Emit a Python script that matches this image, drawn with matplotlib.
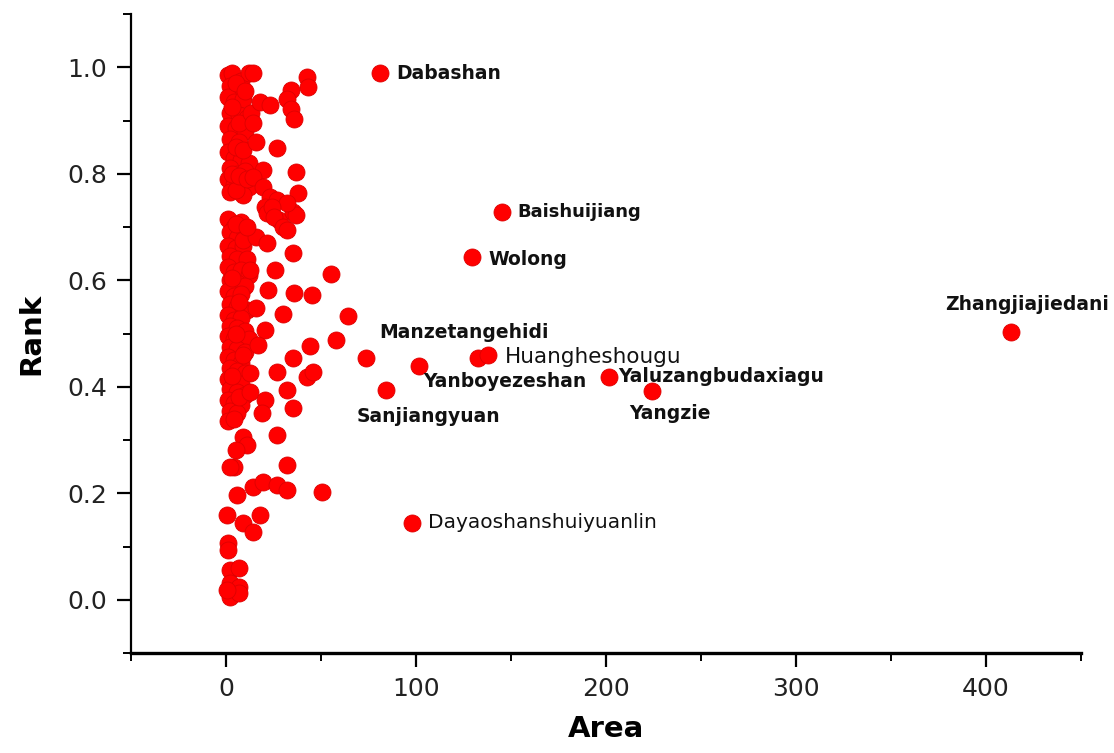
import matplotlib.pyplot as plt
from matplotlib.ticker import MultipleLocator

# unlabelled reserves: dense column near zero area
col_area = [1, 3, 8, 12, 2, 6, 1, 4, 9, 2, 7, 11, 1, 5, 10, 2, 7, 1, 4, 8, 12,
            2, 6, 10, 1, 4, 8, 12, 2, 9, 5,
            1, 4, 8, 2, 6, 10, 1, 5, 9, 2, 6, 11, 1, 4, 8, 12, 2, 6, 10, 1, 4, 8,
            2, 6, 11, 1, 4, 8, 2, 6, 10, 1, 4, 8, 12, 2, 6, 10, 1, 4, 8, 2, 6, 10,
            1, 4, 8, 2, 6, 10, 1, 4, 8, 2, 6, 1, 4,
            5, 10, 3, 7, 13, 5, 9, 3, 7, 11, 5, 9, 3, 7, 5, 9, 3, 7]
col_rank = [0.985, 0.99, 0.975, 0.99, 0.965, 0.955, 0.945, 0.935, 0.94, 0.915, 0.91, 0.905,
            0.89, 0.885, 0.88, 0.865, 0.86, 0.84, 0.83, 0.825, 0.82, 0.81, 0.80, 0.805,
            0.79, 0.78, 0.785, 0.775, 0.765, 0.76, 0.77,
            0.715, 0.70, 0.71, 0.69, 0.68, 0.69, 0.665, 0.66, 0.665, 0.645, 0.64, 0.64,
            0.625, 0.615, 0.62, 0.61, 0.60, 0.595, 0.59, 0.58, 0.57, 0.575,
            0.555, 0.55, 0.545, 0.535, 0.525, 0.53, 0.515, 0.51, 0.505, 0.495, 0.49,
            0.485, 0.49, 0.475, 0.47, 0.465, 0.455, 0.45, 0.445, 0.435, 0.43, 0.425,
            0.415, 0.41, 0.405, 0.395, 0.39, 0.385, 0.375, 0.37, 0.365, 0.355, 0.35,
            0.335, 0.34,
            0.97, 0.955, 0.925, 0.895, 0.915, 0.85, 0.845, 0.80, 0.795, 0.79, 0.705,
            0.675, 0.605, 0.56, 0.50, 0.46, 0.42, 0.38]

# unlabelled reserves spreading out from the column
out_area = [14, 42.5, 43, 34, 32, 34, 36, 18, 23, 14, 16, 27, 37, 19.5, 14, 19.5, 23,
            20.5, 27, 38, 21.5, 28, 35, 37, 32, 24, 25, 30, 32, 16, 21.5, 11, 35, 26,
            12.6, 22, 36, 45, 55, 16, 30, 64, 20.5, 44, 58, 17, 12.6, 12.6, 27, 35,
            42.6, 46, 32, 35, 20.5, 19, 27, 9, 11, 5, 4, 2, 32, 6, 14, 19.5, 27, 32,
            50.5, 0.5, 9, 14, 18, 1, 1, 2, 7, 2, 7, 2, 7, 0.5, 132.6]
out_rank = [0.99, 0.981, 0.963, 0.957, 0.94, 0.922, 0.903, 0.935, 0.93, 0.895, 0.86,
            0.848, 0.803, 0.807, 0.794, 0.775, 0.756, 0.737, 0.75, 0.764, 0.726, 0.713,
            0.728, 0.722, 0.745, 0.737, 0.718, 0.70, 0.694, 0.681, 0.67, 0.70, 0.651,
            0.619, 0.619, 0.582, 0.576, 0.572, 0.612, 0.548, 0.536, 0.533, 0.507, 0.476,
            0.488, 0.478, 0.426, 0.39, 0.428, 0.454, 0.418, 0.428, 0.394, 0.36, 0.375,
            0.35, 0.31, 0.306, 0.291, 0.281, 0.25, 0.25, 0.253, 0.197, 0.212, 0.221,
            0.216, 0.206, 0.203, 0.16, 0.144, 0.128, 0.16, 0.107, 0.094, 0.056, 0.06,
            0.032, 0.024, 0.006, 0.013, 0.019, 0.454]

# named reserves
names = ["Dabashan", "Baishuijiang", "Wolong", "Manzetangehidi", "Huangheshougu",
         "Yanboyezeshan", "Sanjiangyuan", "Yaluzangbudaxiagu", "Yangzie",
         "Zhangjiajiedani", "Dayaoshanshuiyuanlin"]
named_area = [81, 145, 129.5, 73.5, 138, 101.5, 84, 201.5, 224, 413, 98]
named_rank = [0.989, 0.728, 0.644, 0.454, 0.460, 0.439, 0.394, 0.418, 0.392, 0.503, 0.145]

# label placement: (dx, dy in points, ha, weight, size)
label_style = [
    (12, 0, "left", "bold", 13.5),
    (11.5, 0, "left", "bold", 13),
    (11.5, -2, "left", "bold", 13.5),
    (10, 18, "left", "bold", 13.5),
    (12, -1.5, "left", "normal", 15.5),
    (3, -11.5, "left", "bold", 13.5),
    (-21, -19, "left", "bold", 13.5),
    (6.5, 0.5, "left", "bold", 13.5),
    (13, -16, "center", "bold", 13.5),
    (12, 19.5, "center", "bold", 13.5),
    (11.5, 0, "left", "normal", 14.5),
]

fig = plt.figure(figsize=(11.14, 7.53), dpi=100)
ax = fig.add_axes([0.1176, 0.1328, 0.8528, 0.8486])

dot = dict(s=150, color="#ff0000", edgecolors="#dd0000", linewidths=0.6, zorder=3)
ax.scatter(col_area, col_rank, **dot)
ax.scatter(out_area, out_rank, **dot)
ax.scatter(named_area, named_rank, **dot)

for name, x, y, (dx, dy, ha, w, fs) in zip(names, named_area, named_rank, label_style):
    ax.annotate(name, xy=(x, y), xytext=(dx, dy), textcoords="offset points",
                ha=ha, va="center", fontsize=fs, fontweight=w, color="#111111")

ax.set_xlim(-50, 450)
ax.set_ylim(-0.1, 1.1)
ax.xaxis.set_major_locator(MultipleLocator(100))
ax.xaxis.set_minor_locator(MultipleLocator(50))
ax.yaxis.set_major_locator(MultipleLocator(0.2))
ax.yaxis.set_minor_locator(MultipleLocator(0.1))
ax.set_xticks([0, 100, 200, 300, 400])
ax.set_yticks([0.0, 0.2, 0.4, 0.6, 0.8, 1.0])
ax.set_yticklabels(["0.0", "0.2", "0.4", "0.6", "0.8", "1.0"])

for side in ("top", "right"):
    ax.spines[side].set_visible(False)
ax.spines["bottom"].set_linewidth(2.4)
ax.spines["left"].set_linewidth(1.6)

ax.tick_params(axis="both", which="major", direction="out", length=10, width=1.6,
               labelsize=18, labelcolor="#222222", pad=7)
ax.tick_params(axis="both", which="minor", direction="out", length=6, width=1.4)

ax.set_xlabel("Area", fontsize=21, fontweight="bold", labelpad=10)
ax.set_ylabel("Rank", fontsize=21, fontweight="bold", labelpad=16)

fig.savefig("out.png", dpi=100)
